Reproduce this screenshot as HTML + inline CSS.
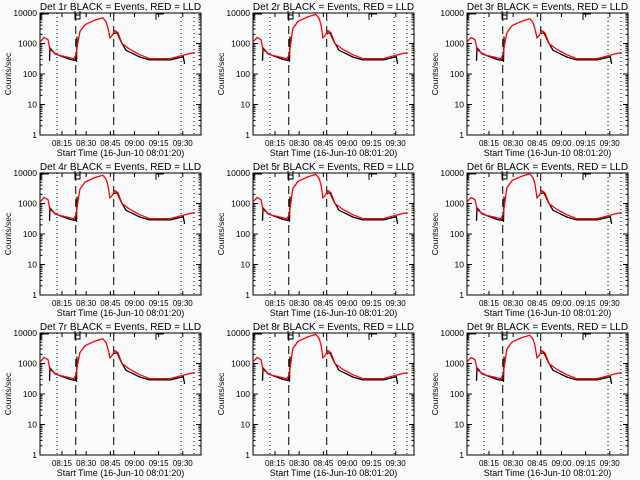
<!DOCTYPE html>
<html><head><meta charset="utf-8"><style>
html,body{margin:0;padding:0;background:#fbfbfb;}
svg{display:block;font-family:"Liberation Sans",sans-serif;}
</style></head><body>
<svg id="chart" width="640" height="480" viewBox="0 0 640 480" xmlns="http://www.w3.org/2000/svg">
<rect width="640" height="480" fill="#fbfbfb"/>
</svg>
<script>
// ---- data ----
const detectorNames = ["1r","2r","3r","4r","5r","6r","7r","8r","9r"];
const yTickValues = [1,10,100,1000,10000];
const yTickLabels = ["1","10","100","1000","10000"];
const xTickMinutes = [13.67,28.67,43.67,58.67,73.67,88.67];
const xTickLabels = ["08:15","08:30","08:45","09:00","09:15","09:30"];
const dottedMinutes = [10.6, 87.6, 95.6];
const dashedMinutes = [22.2, 45.8];
// red (LLD) curve: minutes since 08:01:20, counts/sec
const redMinutes = [0,2.5,5,6.2,10.6,18.6,21,22.4,23.3,24.8,28,34,39,41,42.2,43.5,44.7,46.6,48.4,51,56,62,68,81,87,93,96];
const redCounts  = [1120,1590,1330,630,430,340,315,430,910,2450,4170,5800,7000,5200,3300,1540,1800,2650,2250,990,630,430,320,320,390,470,500];
// black (events) curve, two segments
const blackMinutesA = [5.9,6.2,9.3,18.6,21.7,22.4,22.7,23];
const blackCountsA  = [270,720,460,300,280,340,250,1680];
const blackMinutesB = [45.3,47.8,50.3,53.4,62,68,81,89,89.8];
const blackCountsB  = [2100,2250,1150,600,360,290,290,370,215];
// per-detector peak level (counts/sec at flare maximum)
const peakCounts = [7000,9000,6500,8500,9000,9500,6500,9000,8500];

// ---- layout ----
const panelLeft = [40,253,467], panelTop = [13,173,333];
const PW = 161, PH = 122, TMAX = 100;
const svg = document.getElementById('chart');
const NS = "http://www.w3.org/2000/svg";
function mk(tag, attrs, parent){ const e=document.createElementNS(NS,tag); for(const k in attrs) e.setAttribute(k,attrs[k]); (parent||svg).appendChild(e); return e; }

detectorNames.forEach((name, i) => {
  const L = panelLeft[i%3], T = panelTop[Math.floor(i/3)];
  const g = mk('g', {});
  
  
  const xs = m => L + m / TMAX * PW;
  const ys = v => T + PH - Math.log10(v) / 4 * PH;
  const scale = peakCounts[i] / 7000;
  const peakAdj = (m, v) => (m >= 24 && m <= 42.5) ? v * scale : v;

  const frame = mk('rect', {x:L, y:T, width:PW, height:PH, fill:'none', stroke:'#000', 'stroke-width':1}, g);
  
  
  yTickValues.forEach((v, k) => {
    const y = ys(v);
    mk('line', {x1:L, x2:L+5, y1:y, y2:y, stroke:'#000'}, g);
    mk('line', {x1:L+PW, x2:L+PW-5, y1:y, y2:y, stroke:'#000'}, g);
    const t = mk('text', {x:L-3, y:y+3, 'text-anchor':'end', 'font-size':8.5}, g);
    t.textContent = yTickLabels[k];
    
    
    if (k < 4) for (let m = 2; m <= 9; m++) {
      const ym = ys(v*m);
      mk('line', {x1:L, x2:L+2.5, y1:ym, y2:ym, stroke:'#000'}, g);
      mk('line', {x1:L+PW, x2:L+PW-2.5, y1:ym, y2:ym, stroke:'#000'}, g);
    }
  });
  xTickMinutes.forEach((m, k) => {
    const x = xs(m);
    mk('line', {x1:x, x2:x, y1:T+PH, y2:T+PH-4, stroke:'#000'}, g);
    mk('line', {x1:x, x2:x, y1:T, y2:T+4, stroke:'#000'}, g);
    const t = mk('text', {x:x, y:T+PH+11, 'text-anchor':'middle', 'font-size':8}, g);
    t.textContent = xTickLabels[k];
    
    
  });
  dottedMinutes.forEach(m => {
    const l = mk('line', {x1:xs(m), x2:xs(m), y1:T, y2:T+PH, stroke:'#000', 'stroke-dasharray':'1 3'}, g);
    
    
  });
  dashedMinutes.forEach(m => {
    const l = mk('line', {x1:xs(m), x2:xs(m), y1:T, y2:T+PH, stroke:'#000', 'stroke-dasharray':'8 5'}, g);
    
    
  });
  [[L+1, T+1],[L+PW-45, T+1]].forEach(p => {
    mk('path', {d:`M${p[0]} ${p[1]+6} V${p[1]} H${p[0]+8}`, fill:'none', stroke:'#000'}, g);
  });
  mk('path', {d:`M${L+35} ${T-2} V${T+2} H${L+40} V${T-2} M${L+35} ${T+2} V${T+6} H${L+40} V${T+2}`, fill:'none', stroke:'#000'}, g);
  const pts = (ms, cs) => ms.map((m,k) => xs(m).toFixed(1)+','+ys(peakAdj(m, cs[k])).toFixed(1)).join(' ');
  const bA = mk('polyline', {points:pts(blackMinutesA, blackCountsA), fill:'none', stroke:'#000', 'stroke-width':1.3}, g);
  
  
  const bB = mk('polyline', {points:pts(blackMinutesB, blackCountsB), fill:'none', stroke:'#000', 'stroke-width':1.3}, g);
  
  
  const r = mk('polyline', {points:pts(redMinutes, redCounts), fill:'none', stroke:'#ff0000', 'stroke-width':1.3}, g);
  
  
  const title = mk('text', {x:L+PW/2, y:T-3, 'text-anchor':'middle', 'font-size':10}, g);
  title.textContent = 'Det ' + name + ' BLACK = Events, RED = LLD';
  
  
  const xt = mk('text', {x:L+PW/2, y:T+PH+21, 'text-anchor':'middle', 'font-size':9}, g);
  xt.textContent = 'Start Time (16-Jun-10 08:01:20)';
  
  
  const yt = mk('text', {x:0, y:0, 'text-anchor':'middle', 'font-size':8.5, transform:`translate(${L-29},${T+PH/2}) rotate(-90)`}, g);
  yt.textContent = 'Counts/sec';
  
  
});
</script>
</body></html>
